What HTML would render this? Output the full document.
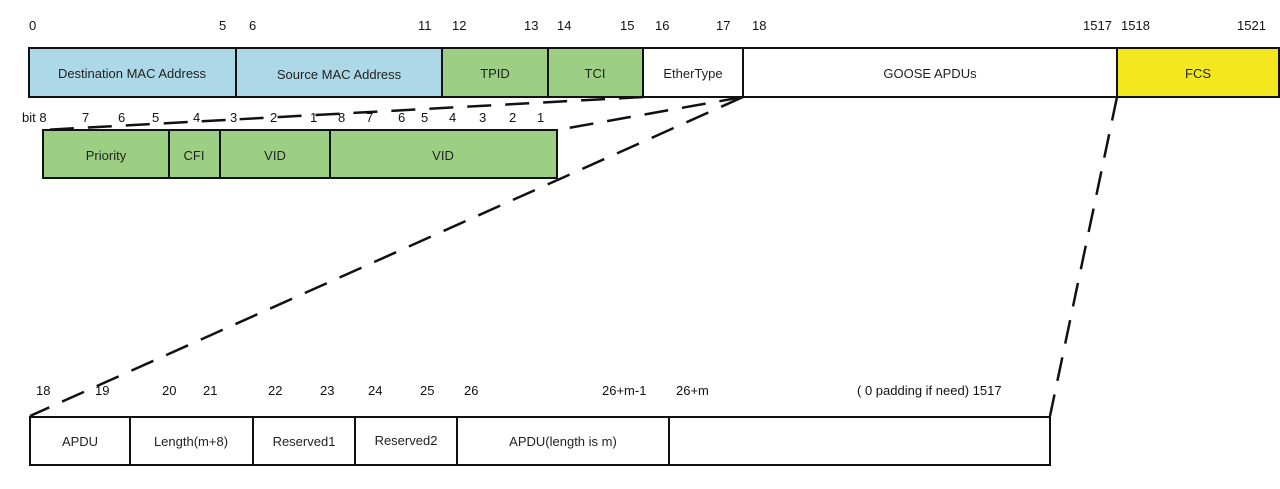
<!DOCTYPE html>
<html><head><style>
html,body{margin:0;padding:0;background:#fff;}
svg{display:block;font-family:"Liberation Sans","DejaVu Sans",sans-serif;}
</style></head><body>
<svg width="1280" height="489" viewBox="0 0 1280 489" xmlns="http://www.w3.org/2000/svg">
<g font-size="13" fill="#111">
<text x="29" y="30">0</text><text x="219" y="30">5</text><text x="249" y="30">6</text>
<text x="418" y="30">11</text><text x="452" y="30">12</text><text x="524" y="30">13</text>
<text x="557" y="30">14</text><text x="620" y="30">15</text><text x="655" y="30">16</text>
<text x="716" y="30">17</text><text x="752" y="30">18</text><text x="1083" y="30">1517</text>
<text x="1121" y="30">1518</text><text x="1237" y="30">1521</text>
</g>
<g stroke="#111" stroke-width="2">
<rect x="29" y="48" width="207" height="49" fill="#acd8e8"/>
<rect x="236" y="48" width="206" height="49" fill="#acd8e8"/>
<rect x="442" y="48" width="106" height="49" fill="#9ccf84"/>
<rect x="548" y="48" width="95" height="49" fill="#9ccf84"/>
<rect x="643" y="48" width="100" height="49" fill="#fff"/>
<rect x="743" y="48" width="374" height="49" fill="#fff"/>
<rect x="1117" y="48" width="162" height="49" fill="#f3e81d"/>
</g>
<g font-size="13" fill="#222" text-anchor="middle">
<text x="132" y="78">Destination MAC Address</text>
<text x="339" y="79">Source MAC Address</text>
<text x="495" y="78">TPID</text><text x="595" y="78">TCI</text>
<text x="693" y="78">EtherType</text><text x="930" y="78">GOOSE APDUs</text>
<text x="1198" y="78">FCS</text>
</g>
<g font-size="13" fill="#111">
<text x="22" y="122">bit 8</text><text x="82" y="122">7</text><text x="118" y="122">6</text>
<text x="152" y="122">5</text><text x="193" y="122">4</text><text x="230" y="122">3</text>
<text x="270" y="122">2</text><text x="310" y="122">1</text><text x="338" y="122">8</text>
<text x="366" y="122">7</text><text x="398" y="122">6</text><text x="421" y="122">5</text>
<text x="449" y="122">4</text><text x="479" y="122">3</text><text x="509" y="122">2</text>
<text x="537" y="122">1</text>
</g>
<g stroke="#111" stroke-width="2" fill="#9ccf84">
<rect x="43" y="130" width="126" height="48"/>
<rect x="169" y="130" width="51" height="48"/>
<rect x="220" y="130" width="110" height="48"/>
<rect x="330" y="130" width="227" height="48"/>
</g>
<g font-size="13" fill="#222" text-anchor="middle">
<text x="106" y="160">Priority</text><text x="194" y="160">CFI</text>
<text x="275" y="160">VID</text><text x="443" y="160">VID</text>
</g>
<g stroke="#111" stroke-width="2.5" stroke-dasharray="24,14" fill="none">
<line x1="643" y1="97" x2="43" y2="130"/>
<line x1="743" y1="97" x2="557" y2="130"/>
<line x1="743" y1="97" x2="30" y2="416"/>
<line x1="1117" y1="97" x2="1050" y2="416"/>
</g>
<g font-size="13" fill="#111">
<text x="36" y="395">18</text><text x="95" y="395">19</text><text x="162" y="395">20</text>
<text x="203" y="395">21</text><text x="268" y="395">22</text><text x="320" y="395">23</text>
<text x="368" y="395">24</text><text x="420" y="395">25</text><text x="464" y="395">26</text>
<text x="602" y="395">26+m-1</text><text x="676" y="395">26+m</text>
<text x="857" y="395">( 0 padding if need)  1517</text>
</g>
<g stroke="#111" stroke-width="2" fill="#fff">
<rect x="30" y="417" width="100" height="48"/>
<rect x="130" y="417" width="123" height="48"/>
<rect x="253" y="417" width="102" height="48"/>
<rect x="355" y="417" width="102" height="48"/>
<rect x="457" y="417" width="212" height="48"/>
<rect x="669" y="417" width="381" height="48"/>
</g>
<g font-size="13" fill="#222" text-anchor="middle">
<text x="80" y="446">APDU</text><text x="191" y="446">Length(m+8)</text>
<text x="304" y="446">Reserved1</text><text x="406" y="445">Reserved2</text>
<text x="563" y="446">APDU(length is m)</text>
</g>
</svg>
</body></html>
